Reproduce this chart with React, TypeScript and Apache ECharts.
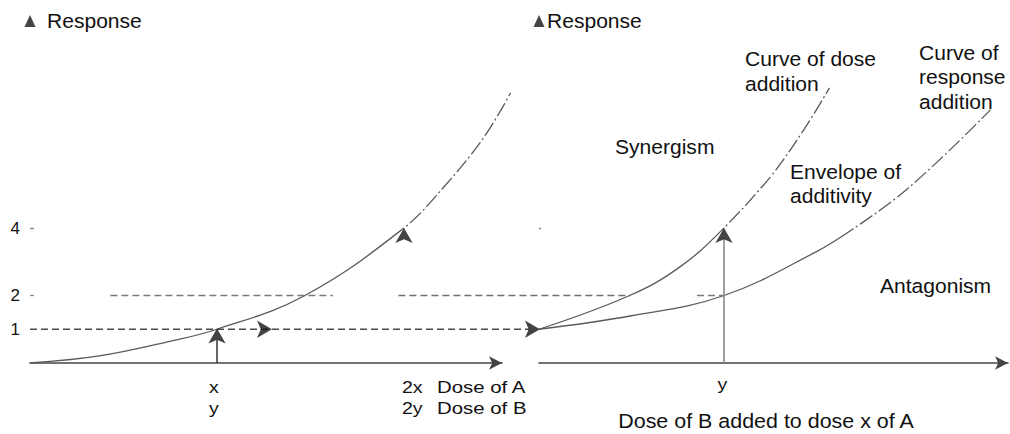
import React, { useEffect, useRef } from 'react';
import * as echarts from 'echarts';

// ---- data ----
// left panel: dose of A (in units of x) vs response
const doseA = [0, 0.37, 0.73, 1, 1.47, 2, 2.2, 2.41, 2.57];
const respA = [0, 0.21, 0.62, 1, 2, 4, 5.13, 6.55, 8.0];
// right panel: dose of B (units of y) added to dose x of A
const doseAddB = [0, 0.49, 0.76, 1, 1.25, 1.43, 1.57];
const doseAddResp = [1, 2, 2.84, 4, 5.51, 6.9, 8.15];
const respAddB = [0, 0.5, 1, 1.5, 1.7, 2, 2.44];
const respAddResp = [1, 1.4, 2, 3.3, 3.98, 5.2, 7.5];
// tick labels
const yTickValues = [1, 2, 4];
const leftTickLabelsA = ['x', '2x'];
const leftTickLabelsB = ['y', '2y'];
const rightTickLabels = ['y'];
// reference lines (response levels and their extents in dose-of-A units)
const level1Left = [0, 2.67];
const level2LeftA = [0.43, 1.62];
const level2LeftB = [1.97, 3.21];
const level2Right = [0.854, 1.0];
// arrow tips
const rightArrowTips = [1.294, 2.727];
const upArrowTipsLeft = [[1, 1.02], [2, 4.0]];
const upArrowTipsRight = [[1, 4.0]];
const yAxisTop = 10.13;

const FONT = '"Liberation Sans", Arial, Helvetica, sans-serif';
const TXT = '#111111';

function pairs(xs: number[], ys: number[], from = 0, to = xs.length) {
  const out: number[][] = [];
  for (let i = from; i < to; i++) out.push([xs[i], ys[i]]);
  return out;
}

function label(text: string, x: number, y: number, size = 19.5, sx = 1.08, align = 'left') {
  return {
    type: 'text',
    x,
    y,
    z: 20,
    scaleX: sx,
    silent: true,
    style: {
      text,
      fill: TXT,
      font: `${size}px ${FONT}`,
      align,
      verticalAlign: 'middle',
      textAlign: align,
      textVerticalAlign: 'middle',
    },
  };
}

export default function App() {
  const ref = useRef<HTMLDivElement>(null);

  useEffect(() => {
    if (!ref.current) return;
    const chart = echarts.init(ref.current, undefined, { renderer: 'svg' });

    const curveStyle = { color: '#5a5a5a', width: 1.3 };
    // white breaks laid over the upper part of each curve (broken-line look)
    const breakStyle = { color: '#ffffff', width: 3.2, type: [3, 2, 3, 15] };
    const dashLine = (c: string) => ({ color: c, width: 1.5, type: [7, 4] });

    // grid 0: visible left axis; grid 1: right panel; grid 2: hidden, same scale as
    // the left panel but wide enough for the lines that run into the right panel
    const LEFT_GI = 2;
    const line = (data: number[][], style: any, gi: number, smooth = true, z = 2) => ({
      type: 'line',
      xAxisIndex: gi,
      yAxisIndex: gi,
      data,
      smooth: smooth ? 0.4 : false,
      showSymbol: false,
      symbol: 'none',
      clip: false,
      lineStyle: style,
      silent: true,
      z,
    });
    const arrows = (data: number[][], gi: number, rotate: number, size: number[]) => ({
      type: 'scatter',
      xAxisIndex: gi,
      yAxisIndex: gi,
      data,
      symbol: 'arrow',
      symbolSize: size,
      symbolRotate: rotate,
      itemStyle: { color: '#151515' },
      clip: false,
      silent: true,
      z: 5,
    });

    const PX = 187; // px per dose unit (left)
    const option: any = {
      animation: false,
      backgroundColor: '#ffffff',
      grid: [
        { left: 30, top: 18.75, width: 2.524 * PX, height: 344.25 },
        { left: 539, top: 18.75, width: 469, height: 344.25 },
        { left: 30, top: 18.75, width: 3.4 * PX, height: 344.25 },
      ],
      xAxis: [0, 1, 2].map((gi) => ({
        gridIndex: gi,
        type: 'value',
        min: 0,
        max: gi === 0 ? 2.524 : gi === 1 ? 2.535 : 3.4,
        axisLine: {
          show: gi !== 2,
          symbol: ['none', 'arrow'],
          symbolSize: [10, 13],
          lineStyle: { color: '#444', width: 1.6 },
        },
        axisTick: { show: false },
        axisLabel: { show: false },
        splitLine: { show: false },
      })),
      yAxis: [0, 1, 2].map((gi) => ({
        gridIndex: gi,
        type: 'value',
        min: 0,
        max: 10.2,
        axisLine: { show: false },
        axisTick: {
          show: gi !== 2,
          inside: true,
          length: gi === 0 ? 4 : 2,
          customValues: gi === 0 ? [2, 4] : [4],
          lineStyle: { color: '#888', width: 1.3 },
        },
        axisLabel: {
          show: gi === 0,
          customValues: yTickValues,
          margin: 10,
          fontSize: 17,
          fontFamily: FONT,
          color: TXT,
        },
        splitLine: { show: false },
      })),
      series: [
        // left dose-response curve of A
        line(pairs(doseA, respA), curveStyle, LEFT_GI),
        line(pairs(doseA, respA, 5), breakStyle, LEFT_GI, true, 3),
        // response level lines
        line([[level1Left[0], 1], [level1Left[1], 1]], dashLine('#4a4a4a'), LEFT_GI, false),
        line([[level2LeftA[0], 2], [level2LeftA[1], 2]], dashLine('#7a7a7a'), LEFT_GI, false),
        line([[level2LeftB[0], 2], [level2LeftB[1], 2]], dashLine('#707070'), LEFT_GI, false),
        // left vertical arrow shaft at dose x
        line([[1, 0], [1, 0.7]], { color: '#333', width: 1.5 }, LEFT_GI, false),
        // right curves
        line(pairs(doseAddB, doseAddResp), curveStyle, 1),
        line(pairs(doseAddB, doseAddResp, 3), breakStyle, 1, true, 3),
        line(pairs(respAddB, respAddResp), curveStyle, 1),
        line(pairs(respAddB, respAddResp, 4), breakStyle, 1, true, 3),
        line([[level2Right[0], 2], [level2Right[1], 2]], dashLine('#7a7a7a'), 1, false),
        // right vertical arrow shaft at dose y
        line([[1, 0], [1, 3.7]], { color: '#8a8a8a', width: 1.6 }, 1, false),
        // arrow heads
        arrows(rightArrowTips.map((d) => [d, 1]), LEFT_GI, -90, [13, 15]),
        arrows(upArrowTipsLeft, LEFT_GI, 0, [13, 15]),
        arrows(upArrowTipsRight, 1, 0, [13, 15]),
        // y-axis arrow tips (the axes themselves are not drawn)
        ...[0, 1].map((gi) => ({
          type: 'scatter',
          xAxisIndex: gi,
          yAxisIndex: gi,
          data: [[0, yAxisTop]],
          symbol: 'triangle',
          symbolSize: [11, 12],
          itemStyle: { color: '#151515' },
          clip: false,
          silent: true,
          z: 5,
        })),
      ],
      graphic: [
        label('Response', 47, 21.5),
        label('Response', 547, 21.5),
        label('Curve of dose', 745, 59),
        label('addition', 745, 84.5),
        label('Curve of', 919, 53),
        label('response', 919, 77),
        label('addition', 919, 102),
        label('Synergism', 615, 147.5),
        label('Envelope of', 790, 172),
        label('additivity', 790, 196),
        label('Antagonism', 880, 286),
        label(leftTickLabelsA[0], 214, 387, 17, 1.15, 'center'),
        label(leftTickLabelsB[0], 214, 408, 17, 1.15, 'center'),
        label(leftTickLabelsA[1], 402, 387, 17, 1.15),
        label(leftTickLabelsB[1], 402, 408, 17, 1.15),
        label('Dose of A', 437, 387, 17, 1.2),
        label('Dose of B', 437, 408, 17, 1.2),
        label(rightTickLabels[0], 722.5, 384, 17, 1.15, 'center'),
        label('Dose of B added to dose x of A', 766, 421, 19.5, 1.1, 'center'),
      ],
    };

    chart.setOption(option);
    return () => chart.dispose();
  }, []);

  return (
    <div
      ref={ref}
      style={{ position: 'fixed', left: 0, top: 0, width: 1010, height: 434, background: '#fff' }}
    />
  );
}
